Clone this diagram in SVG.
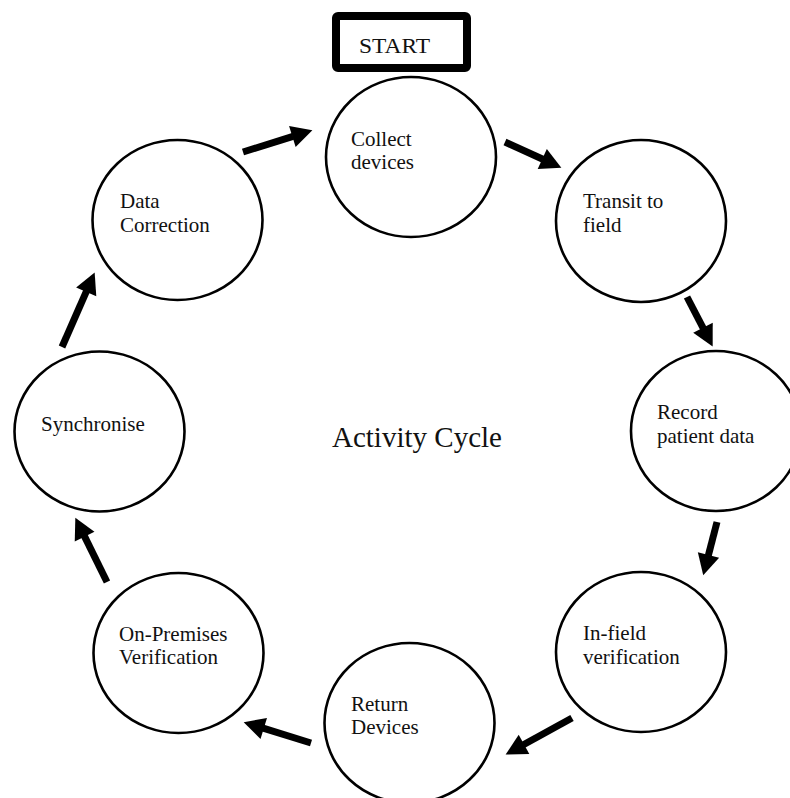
<svg xmlns="http://www.w3.org/2000/svg" width="790" height="798" viewBox="0 0 790 798">
  <style>
    .node { fill: #ffffff; stroke: #000000; stroke-width: 2.6; }
    .label { font-family: "Liberation Serif", "Times New Roman", serif; font-size: 21px; fill: #111111; }
    .title { font-family: "Liberation Serif", "Times New Roman", serif; font-size: 29px; fill: #111111; }
    .flow { stroke: #000000; stroke-width: 7; fill: none; marker-end: url(#head); }
  </style>
  <defs>
    <marker id="head" markerUnits="strokeWidth" markerWidth="3.2" markerHeight="3.2" refX="0.1" refY="1.57" orient="auto" overflow="visible">
      <path d="M0,0 L3,1.57 L0,3.14 Z" fill="#000000"/>
    </marker>
  </defs>

  <rect width="790" height="798" fill="#ffffff"/>

  <!-- start marker -->
  <g id="start">
    <rect x="336" y="16" width="131" height="52" rx="2" fill="#ffffff" stroke="#000000" stroke-width="8"/>
    <text class="label" x="359" y="53" font-size="27" textLength="71" lengthAdjust="spacingAndGlyphs">START</text>
  </g>

  <!-- cycle steps -->
  <g id="collect-devices">
    <ellipse class="node" cx="411" cy="157" rx="85" ry="80"/>
    <text class="label" x="351" y="146">Collect</text>
    <text class="label" x="351" y="169">devices</text>
  </g>
  <g id="transit-to-field">
    <ellipse class="node" cx="641" cy="221" rx="85" ry="81"/>
    <text class="label" x="583" y="208">Transit to</text>
    <text class="label" x="583" y="232">field</text>
  </g>
  <g id="record-patient-data">
    <ellipse class="node" cx="716" cy="431" rx="85" ry="80"/>
    <text class="label" x="657" y="419">Record</text>
    <text class="label" x="657" y="443">patient data</text>
  </g>
  <g id="in-field-verification">
    <ellipse class="node" cx="641" cy="652" rx="85" ry="80"/>
    <text class="label" x="583" y="640">In-field</text>
    <text class="label" x="583" y="664">verification</text>
  </g>
  <g id="return-devices">
    <ellipse class="node" cx="409.5" cy="723" rx="85" ry="80"/>
    <text class="label" x="351" y="711">Return</text>
    <text class="label" x="351" y="734">Devices</text>
  </g>
  <g id="on-premises-verification">
    <ellipse class="node" cx="178.5" cy="653" rx="85" ry="80"/>
    <text class="label" x="119" y="641">On-Premises</text>
    <text class="label" x="119" y="664">Verification</text>
  </g>
  <g id="synchronise">
    <ellipse class="node" cx="99.5" cy="431.5" rx="85" ry="80"/>
    <text class="label" x="41" y="431">Synchronise</text>
  </g>
  <g id="data-correction">
    <ellipse class="node" cx="177.5" cy="220" rx="85" ry="80"/>
    <text class="label" x="120" y="208">Data</text>
    <text class="label" x="120" y="232">Correction</text>
  </g>

  <g id="cycle-title">
    <text class="title" x="332" y="447">Activity Cycle</text>
  </g>

  <!-- connectors: each line stops where its arrowhead begins -->
  <g id="connectors">
    <line class="flow" x1="243" y1="152" x2="293" y2="136.3"/>
    <line class="flow" x1="505" y1="142" x2="542.9" y2="159.3"/>
    <line class="flow" x1="687" y1="297" x2="703.3" y2="328.4"/>
    <line class="flow" x1="717" y1="522" x2="708.3" y2="555.7"/>
    <line class="flow" x1="572" y1="718" x2="523.4" y2="744.8"/>
    <line class="flow" x1="311" y1="743" x2="263.1" y2="728.2"/>
    <line class="flow" x1="107" y1="582" x2="84.3" y2="535.9"/>
    <line class="flow" x1="62" y1="347" x2="86.5" y2="291.2"/>
  </g>
</svg>
